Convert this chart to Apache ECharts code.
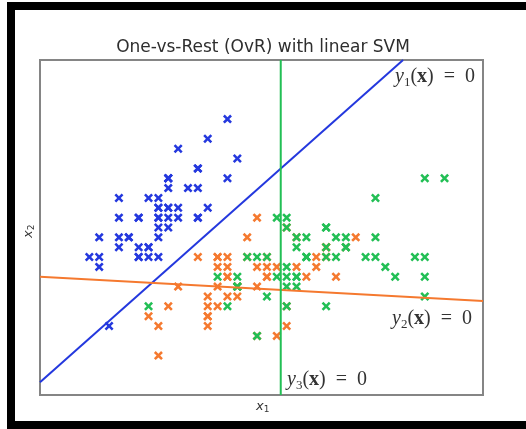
<!DOCTYPE html>
<html>
<head>
<meta charset="utf-8">
<script src="https://cdn.jsdelivr.net/npm/echarts@6/dist/echarts.min.js"></script>
<style>html,body{margin:0;padding:0;background:#fff}#c{width:526px;height:429px}</style>
</head>
<body>
<div id="c"></div>
<script>
// Iris sepal length (x1) vs sepal width (x2), three classes
const setosa = [[5.1,3.5],[4.9,3.0],[4.7,3.2],[4.6,3.1],[5.0,3.6],[5.4,3.9],[4.6,3.4],[5.0,3.4],[4.4,2.9],[4.9,3.1],
[5.4,3.7],[4.8,3.4],[4.8,3.0],[4.3,3.0],[5.8,4.0],[5.7,4.4],[5.4,3.9],[5.1,3.5],[5.7,3.8],[5.1,3.8],
[5.4,3.4],[5.1,3.7],[4.6,3.6],[5.1,3.3],[4.8,3.4],[5.0,3.0],[5.0,3.4],[5.2,3.5],[5.2,3.4],[4.7,3.2],
[4.8,3.1],[5.4,3.4],[5.2,4.1],[5.5,4.2],[4.9,3.1],[5.0,3.2],[5.5,3.5],[4.9,3.6],[4.4,3.0],[5.1,3.4],
[5.0,3.5],[4.5,2.3],[4.4,3.2],[5.0,3.5],[5.1,3.8],[4.8,3.0],[5.1,3.8],[4.6,3.2],[5.3,3.7],[5.0,3.3]];
const versicolor = [[7.0,3.2],[6.4,3.2],[6.9,3.1],[5.5,2.3],[6.5,2.8],[5.7,2.8],[6.3,3.3],[4.9,2.4],[6.6,2.9],[5.2,2.7],
[5.0,2.0],[5.9,3.0],[6.0,2.2],[6.1,2.9],[5.6,2.9],[6.7,3.1],[5.6,3.0],[5.8,2.7],[6.2,2.2],[5.6,2.5],
[5.9,3.2],[6.1,2.8],[6.3,2.5],[6.1,2.8],[6.4,2.9],[6.6,3.0],[6.8,2.8],[6.7,3.0],[6.0,2.9],[5.7,2.6],
[5.5,2.4],[5.5,2.4],[5.8,2.7],[6.0,2.7],[5.4,3.0],[6.0,3.4],[6.7,3.1],[6.3,2.3],[5.6,3.0],[5.5,2.5],
[5.5,2.6],[6.1,3.0],[5.8,2.6],[5.0,2.3],[5.6,2.7],[5.7,3.0],[5.7,2.9],[6.2,2.9],[5.1,2.5],[5.7,2.8]];
const virginica = [[6.3,3.3],[5.8,2.7],[7.1,3.0],[6.3,2.9],[6.5,3.0],[7.6,3.0],[4.9,2.5],[7.3,2.9],[6.7,2.5],[7.2,3.6],
[6.5,3.2],[6.4,2.7],[6.8,3.0],[5.7,2.5],[5.8,2.8],[6.4,3.2],[6.5,3.0],[7.7,3.8],[7.7,2.6],[6.0,2.2],
[6.9,3.2],[5.6,2.8],[7.7,2.8],[6.3,2.7],[6.7,3.3],[7.2,3.2],[6.2,2.8],[6.1,3.0],[6.4,2.8],[7.2,3.0],
[7.4,2.8],[7.9,3.8],[6.4,2.8],[6.3,2.8],[6.1,2.6],[7.7,3.0],[6.3,3.4],[6.4,3.1],[6.0,3.0],[6.9,3.1],
[6.7,3.1],[6.9,3.1],[5.8,2.7],[6.8,3.2],[6.7,3.3],[6.7,3.0],[6.3,2.5],[6.5,3.0],[6.2,3.4],[5.9,3.0]];
// decision boundaries y_k(x) = 0 (endpoints in data units)
const line1 = [[3.8,1.73],[7.48,5.0]];
const line2 = [[3.8,2.80],[8.29,2.555]];
const line3 = [[6.24,1.6],[6.24,5.0]];
const xRange = [3.8, 8.29];
const yRange = [1.6, 5.0];

const BLUE = '#2438de', ORANGE = '#f5792f', GREEN = '#22bf55';
const X = 'path://M2,0 L5,3 L8,0 L10,2 L7,5 L10,8 L8,10 L5,7 L2,10 L0,8 L3,5 L0,2 Z';

function sc(data, color){
  return {type:'scatter', data, symbol:X, symbolSize:9, itemStyle:{color, opacity:1}, z:2, silent:true};
}
function ln(data, color){
  return {type:'line', data, showSymbol:false, symbol:'none', lineStyle:{color, width:2}, z:3, silent:true, animation:false};
}
const serif = 'Liberation Serif';
function eqText(sub){
  return {
    text: '{i|y}{s|' + sub + '}{n|(}{b|x}{n|)  =  0}',
    rich: {
      i:{fontFamily:serif, fontStyle:'italic', fontSize:20, lineHeight:24, fill:'#333', color:'#333'},
      s:{fontFamily:serif, fontSize:13, lineHeight:15, verticalAlign:'bottom', fill:'#333', color:'#333'},
      n:{fontFamily:serif, fontSize:20, lineHeight:24, fill:'#333', color:'#333'},
      b:{fontFamily:serif, fontWeight:'bold', fontSize:20, lineHeight:24, fill:'#333', color:'#333'}
    }
  };
}
const chart = echarts.init(document.getElementById('c'), null, {renderer:'canvas'});
chart.setOption({
  animation:false,
  backgroundColor:'#fff',
  title:{text:'One-vs-Rest (OvR) with linear SVM', left:258, textAlign:'center', top:34,
    textStyle:{fontFamily:'DejaVu Sans', fontSize:17, fontWeight:'normal', color:'#2e2e2e'}},
  grid:{left:40, right:43, top:60, bottom:34, show:true, borderColor:'#858585', borderWidth:2, backgroundColor:'#fff'},
  xAxis:{type:'value', min:xRange[0], max:xRange[1], axisLine:{show:false}, axisTick:{show:false}, axisLabel:{show:false}, splitLine:{show:false}},
  yAxis:{type:'value', min:yRange[0], max:yRange[1], axisLine:{show:false}, axisTick:{show:false}, axisLabel:{show:false}, splitLine:{show:false}},
  series:[
    sc(setosa, BLUE), sc(versicolor, ORANGE), sc(virginica, GREEN),
    ln(line1, BLUE), ln(line2, ORANGE), ln(line3, GREEN)
  ],
  graphic:[
    {type:'rect', shape:{x:7, y:2, width:519, height:8}, style:{fill:'#000'}},
    {type:'rect', shape:{x:7, y:2, width:8, height:427}, style:{fill:'#000'}},
    {type:'rect', shape:{x:7, y:421, width:519, height:8}, style:{fill:'#000'}},
    {type:'text', left:395, top:67, z:10, style: eqText('1')},
    {type:'text', left:392, top:309, z:10, style: eqText('2')},
    {type:'text', left:287, top:370, z:10, style: eqText('3')},
    {type:'text', left:256, top:400, style:{text:'{i|x}{s|1}', rich:{i:{fontFamily:'DejaVu Sans', fontStyle:'italic', fontSize:13, lineHeight:15, fill:'#333'}, s:{fontFamily:'DejaVu Sans', fontSize:9, lineHeight:9, verticalAlign:'bottom', fill:'#333'}}}},
    {type:'text', x:21, y:238, rotation:Math.PI/2, style:{text:'{i|x}{s|2}', rich:{i:{fontFamily:'DejaVu Sans', fontStyle:'italic', fontSize:13, lineHeight:15, fill:'#333'}, s:{fontFamily:'DejaVu Sans', fontSize:9, lineHeight:9, verticalAlign:'bottom', fill:'#333'}}}}
  ]
});
</script>
</body>
</html>
